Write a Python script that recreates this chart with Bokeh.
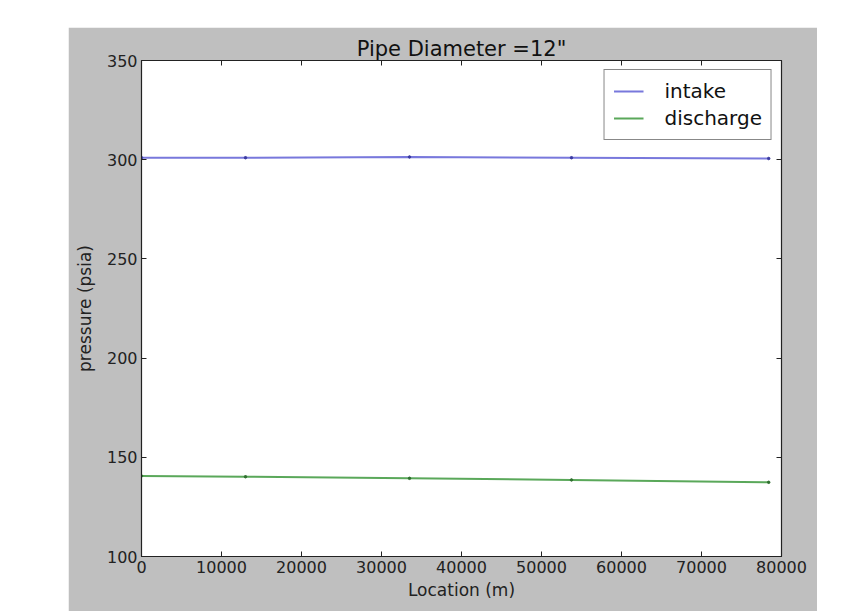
from bokeh.plotting import figure
from bokeh.models import LinearAxis, Range1d, FixedTicker, Spacer, Legend, LegendItem
from bokeh.layouts import row, column
from bokeh.embed import file_html
from bokeh.resources import INLINE

location = [0, 13000, 33500, 53750, 78400]
intake = [301.0, 301.0, 301.4, 301.0, 300.6]
discharge = [140.6, 140.2, 139.4, 138.6, 137.4]
x_ticks = [0, 10000, 20000, 30000, 40000, 50000, 60000, 70000, 80000]
y_ticks = [100, 150, 200, 250, 300, 350]

FONT = "DejaVu Sans"

p = figure(width=749, height=584, output_backend="svg", toolbar_location=None,
           x_range=Range1d(0, 80000), y_range=Range1d(100, 350),
           title='Pipe Diameter =12"',
           min_border_left=73, min_border_right=36, min_border_top=33, min_border_bottom=55)
p.border_fill_color = "#bfbfbf"
p.background_fill_color = "white"
p.outline_line_color = "#222222"
p.outline_line_width = 1.2
p.grid.visible = False

p.title.align = "center"
p.title.text_font = FONT
p.title.text_font_size = "21px"
p.title.text_font_style = "normal"
p.title.text_color = "#111111"
p.title.standoff = 0

for ax in (p.xaxis[0], p.yaxis[0]):
    ax.major_label_text_font = FONT
    ax.major_label_text_font_size = "16px"
    ax.major_label_text_color = "#222222"
    ax.axis_label_text_font = FONT
    ax.axis_label_text_font_size = "17px"
    ax.axis_label_text_font_style = "normal"
    ax.axis_label_text_color = "#222222"
    ax.major_tick_in = 5
    ax.major_tick_out = 0
    ax.minor_tick_line_color = None
    ax.axis_line_color = "#222222"
    ax.major_tick_line_color = "#222222"

p.xaxis[0].ticker = FixedTicker(ticks=x_ticks)
p.yaxis[0].ticker = FixedTicker(ticks=y_ticks)
p.xaxis[0].axis_label = "Location (m)"
p.yaxis[0].axis_label = "pressure (psia)"
p.xaxis[0].major_label_standoff = 4
p.xaxis[0].axis_label_standoff = 4
p.yaxis[0].major_label_standoff = 4
p.yaxis[0].axis_label_standoff = 9

for loc, tk in (("right", y_ticks), ("above", x_ticks)):
    a = LinearAxis(ticker=FixedTicker(ticks=tk))
    a.major_label_overrides = {t: "" for t in tk}
    a.major_label_text_font_size = "1px"
    a.major_tick_in = 5
    a.major_tick_out = 0
    a.minor_tick_line_color = None
    a.axis_line_color = None
    a.major_tick_line_color = "#222222"
    a.major_label_standoff = 0
    p.add_layout(a, loc)

r1 = p.line(location, intake, line_color="#7878dc", line_width=2)
p.scatter(location, intake, size=2.5, color="#3a3aa0")
r2 = p.line(location, discharge, line_color="#5aa85a", line_width=2)
p.scatter(location, discharge, size=2.5, color="#2f6f2f")

legend = Legend(items=[LegendItem(label="intake", renderers=[r1]),
                       LegendItem(label="discharge", renderers=[r2])],
                location="top_right")
legend.label_text_font = FONT
legend.label_text_font_size = "20px"
legend.label_text_color = "#111111"
legend.label_height = 24
legend.glyph_height = 24
legend.border_line_color = "#111111"
legend.border_line_width = 1
legend.glyph_width = 30
legend.label_standoff = 21
legend.padding = 9
legend.spacing = 3
legend.margin = 9
legend.background_fill_alpha = 1
p.add_layout(legend)

layout = row(Spacer(width=68), column(Spacer(height=27), p))
open("out.html", "w").write(file_html(layout, INLINE))
